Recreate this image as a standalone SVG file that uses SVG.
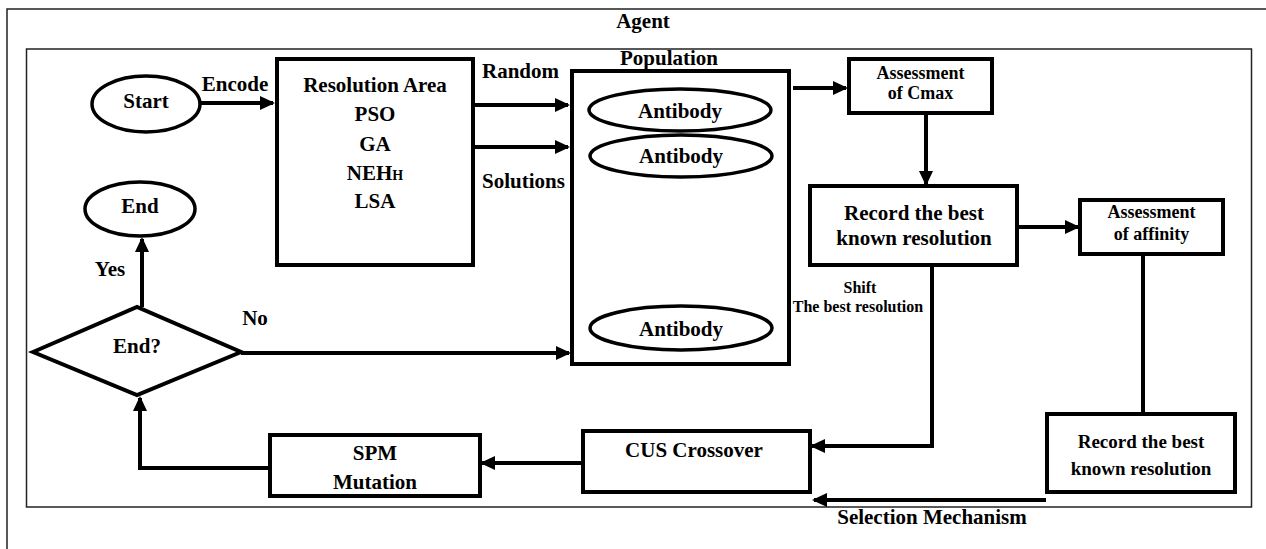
<svg xmlns="http://www.w3.org/2000/svg" width="1266" height="549" viewBox="0 0 1266 549">
  <defs>
    <marker id="arrow" markerUnits="userSpaceOnUse" markerWidth="16" markerHeight="14" refX="13" refY="7" orient="auto">
      <path d="M0,0 L15,7 L0,14 z" fill="#000"/>
    </marker>
  </defs>
  <style>
    text{font-family:"Liberation Serif","Times New Roman",serif;font-weight:bold;fill:#000;text-anchor:middle}
    .t21{font-size:21px}
    .t19{font-size:19px}
    .t18{font-size:18px}
    .t16{font-size:16px}
    .start{text-anchor:start}
    .box{fill:#fff;stroke:#000;stroke-width:4}
    .oval{fill:#fff;stroke:#000;stroke-width:3.5}
    .frame{fill:none;stroke:#222;stroke-width:1.5}
    .conn{fill:none;stroke:#000;stroke-width:4}
    .arr{marker-end:url(#arrow)}
  </style>

  <!-- outer frame and agent boundary -->
  <path class="frame" d="M7,549 V9 H1266"/>
  <rect class="frame" x="26.5" y="49" width="1225" height="458"/>
  <text class="t21" x="643" y="28">Agent</text>

  <!-- connectors -->
  <g id="connectors">
    <path class="conn arr" d="M200,103 H273"/>
    <path class="conn arr" d="M473,105 H568"/>
    <path class="conn arr" d="M473,147 H568"/>
    <path class="conn arr" d="M793,88 H846"/>
    <path class="conn arr" d="M926,113 V184"/>
    <path class="conn arr" d="M1017,227 H1078"/>
    <path class="conn" d="M1143,254 V414"/>
    <path class="conn arr" d="M1046,500 H814"/>
    <path class="conn arr" d="M932,265 V446 H812"/>
    <path class="conn arr" d="M584,463 H482"/>
    <path class="conn arr" d="M270,468 H140 V398"/>
    <path class="conn arr" d="M142,307 V239"/>
    <path class="conn arr" d="M241,353 H569"/>
  </g>

  <!-- connector labels -->
  <g id="labels">
    <text class="t21" x="235" y="91">Encode</text>
    <text class="t21 start" x="482" y="78">Random</text>
    <text class="t21 start" x="482" y="188">Solutions</text>
    <text class="t21" x="110" y="276">Yes</text>
    <text class="t21" x="255" y="325">No</text>
    <text class="t16" x="860" y="293">Shift</text>
    <text class="t16" x="858" y="312">The best resolution</text>
    <text class="t21" x="932" y="524">Selection Mechanism</text>
  </g>

  <g id="start">
    <ellipse class="oval" cx="146" cy="104" rx="54" ry="28"/>
    <text class="t21" x="146" y="108">Start</text>
  </g>

  <g id="end">
    <ellipse class="oval" cx="140" cy="209" rx="55" ry="27"/>
    <text class="t21" x="140" y="213">End</text>
  </g>

  <g id="resolution-area">
    <rect class="box" x="277" y="59" width="196" height="206"/>
    <text class="t21" x="375" y="92">Resolution Area</text>
    <text class="t21" x="375" y="121">PSO</text>
    <text class="t21" x="375" y="151">GA</text>
    <text class="t21" x="375" y="180">NEH<tspan font-size="14">H</tspan></text>
    <text class="t21" x="375" y="208">LSA</text>
  </g>

  <g id="population">
    <text class="t21" x="669" y="65">Population</text>
    <rect class="box" x="572" y="71" width="217" height="293"/>
    <ellipse class="oval" cx="680" cy="110" rx="91" ry="21"/>
    <text class="t21" x="680" y="118">Antibody</text>
    <ellipse class="oval" cx="681" cy="156" rx="91" ry="21"/>
    <text class="t21" x="681" y="163">Antibody</text>
    <ellipse class="oval" cx="681" cy="328" rx="91" ry="22"/>
    <text class="t21" x="681" y="336">Antibody</text>
  </g>

  <g id="assessment-cmax">
    <rect class="box" x="849" y="59" width="143" height="54"/>
    <text class="t18" x="920.5" y="79">Assessment</text>
    <text class="t18" x="920.5" y="99">of Cmax</text>
  </g>

  <g id="record-best">
    <rect class="box" x="810" y="186" width="207" height="79"/>
    <text class="t21" x="914" y="220">Record the best</text>
    <text class="t21" x="914" y="245">known resolution</text>
  </g>

  <g id="assessment-affinity">
    <rect class="box" x="1080" y="200" width="143" height="54"/>
    <text class="t18" x="1151.5" y="218">Assessment</text>
    <text class="t18" x="1151.5" y="240">of affinity</text>
  </g>

  <g id="record-best-2">
    <rect class="box" x="1047" y="414" width="188" height="78"/>
    <text class="t19" x="1141" y="448">Record the best</text>
    <text class="t19" x="1141" y="475">known resolution</text>
  </g>

  <g id="cus-crossover">
    <rect class="box" x="583" y="431" width="227" height="61"/>
    <text class="t21" x="694" y="457">CUS Crossover</text>
  </g>

  <g id="spm-mutation">
    <rect class="box" x="270" y="435" width="210" height="61"/>
    <text class="t21" x="375" y="460">SPM</text>
    <text class="t21" x="375" y="489">Mutation</text>
  </g>

  <g id="end-check">
    <polygon class="box" points="33,352 137,307 241,352 137,395"/>
    <text class="t21" x="137" y="353">End?</text>
  </g>
</svg>
